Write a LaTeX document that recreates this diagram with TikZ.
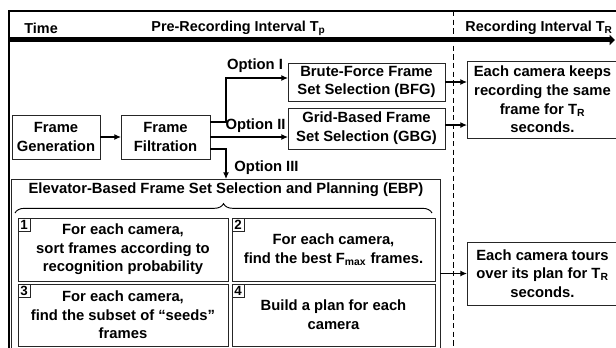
\documentclass[tikz,border=0pt]{standalone}
\usepackage{fontspec}
\setmainfont{Liberation Sans}
\usetikzlibrary{positioning,calc,arrows.meta,decorations.pathreplacing}

\begin{document}
\begin{tikzpicture}[x=0.75pt,y=0.75pt,outer sep=0pt,
font={\fontsize{11.1}{14}\selectfont\bfseries},
stepb/.style={
  draw=black!85,
  line width=0.7pt,
  align=center,
  inner sep=0pt},
numb/.style={
  draw=black!85,
  line width=0.7pt,
  anchor=north west,
  inner sep=0pt,
  minimum width=9pt,
  minimum height=9.75pt,
  font={\fontsize{10}{10}\selectfont\bfseries}},
arr/.style={line width=0.9pt,-{Latex[length=5pt,width=4.5pt]}},
hdr/.style={anchor=west,font={\fontsize{10.8}{12}\selectfont\bfseries}},
]
\useasboundingbox (0,0) rectangle (616,347);
% frame and time line
\draw[line width=0.8pt] (9,-5) -- (9,336) -- (620,336);
\coordinate (t0) at (9,307);
\coordinate (t1) at (615,307);
\draw[line width=3.75pt,-{Triangle[length=4pt,width=7.5pt]}] (t0) -- (t1);
\draw[line width=0.6pt,dash pattern=on 4pt off 2.5pt] (453,336) -- (453,-5);
\node[hdr] (time) at (20,319) {Time};
\node[hdr] (pre) at (147,319) {Pre-Recording Interval T\textsubscript{p}};
\node[hdr] (rec) at (461,319) {Recording Interval T\textsubscript{R}};

% pre-recording steps
\node[stepb, minimum width=66pt, minimum height=33pt] (gen) at (56,210) {Frame\\Generation};
\node[stepb, minimum width=66.75pt, minimum height=33pt] (filt) at (165.5,210) {Frame\\Filtration};
\node[stepb, minimum width=117.75pt, minimum height=28.5pt] (bfg) at (366.5,265) {Brute-Force Frame\\Set Selection (BFG)};
\node[stepb, minimum width=117.75pt, minimum height=30.75pt] (gbg) at (366.5,218.5) {Grid-Based Frame\\Set Selection (GBG)};

% EBP block
\node[stepb, minimum width=321.75pt, minimum height=129.75pt] (ebp) at (225.5,81.5) {};
\node (ebpt) at (226,157) {Elevator-Based Frame Set Selection and Planning (EBP)};
\draw[line width=0.7pt,decorate,decoration={brace,amplitude=7pt}] (15,134) -- (432,134);
\node[stepb, minimum width=157.5pt, minimum height=47.25pt] (s1) at (123,97.5) {For each camera,\\sort frames according to\\recognition probability};
\node[stepb, minimum width=152.25pt, minimum height=47.25pt] (s2) at (333.5,97.5) {For each camera,\\find the best F\textsubscript{max} frames.};
\node[stepb, minimum width=157.5pt, minimum height=46.5pt] (s3) at (123,32) {For each camera,\\find the subset of “seeds”\\frames};
\node[stepb, minimum width=152.25pt, minimum height=46.5pt] (s4) at (333.5,32) {Build a plan for each\\camera};
\node[numb] (n1) at (s1.north west) {1};
\node[numb] (n2) at (s2.north west) {2};
\node[numb] (n3) at (s3.north west) {3};
\node[numb] (n4) at (s4.north west) {4};

% recording
\node[stepb, minimum width=113.25pt, minimum height=57.75pt] (keep) at (542.5,247.5) {Each camera keeps\\recording the same\\frame for T\textsubscript{R}\\seconds.};
\node[stepb, minimum width=113.25pt, minimum height=47.25pt] (tour) at (542.5,73.5) {Each camera tours\\over its plan for T\textsubscript{R}\\seconds.};

% connectors
\coordinate (fork) at (226,210);
\coordinate (a1) at ([yshift=11.25pt]filt.east);
\coordinate (a3) at ([yshift=-9pt]filt.east);
\draw[arr] (gen) -- (filt);
\draw[arr] (a1) -- (a1 -| fork) |- ([yshift=3pt]bfg.west);
\draw[arr] (filt.east) -- (filt.east -| gbg.west);
\draw[arr] (a3) -- (a3 -| fork) -- (fork |- ebp.north);
\node (o1) at (255,281) {Option I};
\node (o2) at (255.5,221) {Option II};
\node[anchor=west] (o3) at (230,179) {Option III};
\draw[arr] (bfg.east) -- (bfg.east -| keep.west);
\draw[arr] ([yshift=2.6pt]gbg.east) -- ([yshift=2.6pt]gbg.east -| keep.west);
\draw[arr] (ebp.east |- tour.west) -- (tour.west);
\end{tikzpicture}
\end{document}
